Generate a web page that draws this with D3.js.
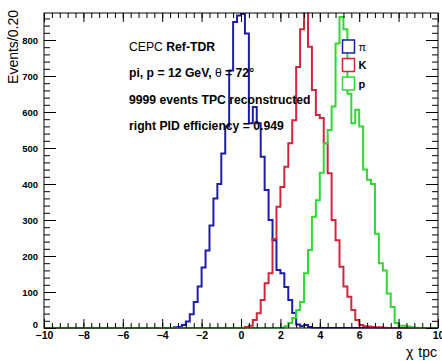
<!DOCTYPE html>
<html>
<head>
<meta charset="utf-8">
<script src="https://cdn.jsdelivr.net/npm/d3@7/dist/d3.min.js"></script>
<style>
  body { margin: 0; background: #fff; }
  svg { display: block; }
  text { font-family: "Liberation Sans", Arial, Helvetica, sans-serif; }
</style>
</head>
<body>
<div id="chart"></div>
<script>
// histogram binning: 100 bins of 0.2 between -10 and 10
const xRange = [-10, 10]
const binWidth = 0.2

// bin contents, each series starting at the lower edge given
const piStart = -3.4
const piCounts = [2, 3, 8, 18, 38, 72, 115, 168, 215, 285, 360, 400, 485, 560, 715, 850, 868, 872,
  818, 569, 614, 569, 476, 383, 300, 244, 161, 152, 114, 78, 42, 10, 5, 8, 3]
const kStart = 0.2
const kCounts = [3, 6, 22, 41, 78, 124, 152, 247, 337, 392, 448, 513, 577, 725, 830, 920, 781, 661,
  592, 583, 513, 430, 300, 244, 170, 115, 87, 50, 22, 8, 5, 4, 3, 2, 2, 1]
const pStart = 2.2
const pCounts = [5, 14, 28, 50, 72, 152, 217, 309, 355, 431, 513, 550, 615, 790, 864, 830, 651, 569,
  606, 560, 440, 412, 400, 262, 180, 160, 96, 58, 14, 6, 6, 4, 2, 1]

const yMax = 875
const xTicks = [-10, -8, -6, -4, -2, 0, 2, 4, 6, 8, 10]
const yTicks = [0, 100, 200, 300, 400, 500, 600, 700, 800]

const infoLines = [
  [{ t: 'CEPC ', b: false }, { t: 'Ref-TDR', b: true }],
  [{ t: 'pi, p = 12 GeV,  ', b: true }, { t: 'θ', b: false }, { t: ' = 72°', b: true }],
  [{ t: '9999 events TPC reconstructed', b: true }],
  [{ t: 'right PID efficiency = 0.949', b: true }]
]

const series = [
  { name: 'π', bold: false, color: '#1c1ca8', start: piStart, counts: piCounts },
  { name: 'K', bold: true, color: '#d0263a', start: kStart, counts: kCounts },
  { name: 'p', bold: true, color: '#2fd92f', start: pStart, counts: pCounts }
]

const width = 442, height = 361
const margin = { left: 44, right: 4, top: 13, bottom: 33 }
const W = width - margin.left - margin.right
const H = height - margin.top - margin.bottom

const svg = d3.select('#chart').append('svg')
  .attr('width', width).attr('height', height)

const x = d3.scaleLinear().domain(xRange).range([margin.left, margin.left + W])
const y = d3.scaleLinear().domain([0, yMax]).range([margin.top + H, margin.top])

svg.append('clipPath').attr('id', 'frame-clip')
  .append('rect')
  .attr('x', margin.left).attr('y', margin.top - 0.5)
  .attr('width', W).attr('height', H + 1)

// full bin arrays
const nBins = Math.round((xRange[1] - xRange[0]) / binWidth)
function fullBins(start, counts) {
  const first = Math.round((start - xRange[0]) / binWidth)
  const vals = new Array(nBins).fill(0)
  counts.forEach((c, i) => { vals[first + i] = c })
  return vals
}

const line = d3.line()
  .x(d => x(d[0]))
  .y(d => y(d[1]))
  .curve(d3.curveStepAfter)

const plot = svg.append('g').attr('clip-path', 'url(#frame-clip)')
series.forEach(s => {
  const vals = fullBins(s.start, s.counts)
  const pts = vals.map((v, i) => [xRange[0] + i * binWidth, v])
  pts.push([xRange[1], vals[nBins - 1]])
  plot.append('path')
    .attr('d', line(pts))
    .attr('fill', 'none')
    .attr('stroke', s.color)
    .attr('stroke-width', 2)
})

// axes, ROOT style ticks pointing inside
const minorX = d3.range(-10, 10.001, 0.4)
const minorY = d3.range(0, yMax, 20)

function styleAxis(g) {
  g.select('.domain').remove()
  g.selectAll('line').attr('stroke', '#000').attr('stroke-width', 1)
  g.selectAll('text').attr('fill', '#000').attr('font-weight', 'bold')
}

svg.append('g')
  .attr('transform', `translate(0,${margin.top + H})`)
  .call(d3.axisBottom(x).tickValues(minorX).tickSize(-5).tickFormat(''))
  .call(styleAxis)
svg.append('g')
  .attr('transform', `translate(0,${margin.top + H})`)
  .call(d3.axisBottom(x).tickValues(xTicks).tickSize(-9).tickPadding(4).tickFormat(d3.format('d')))
  .call(styleAxis)
  .call(g => g.selectAll('text').attr('font-size', 10.5))
svg.append('g')
  .attr('transform', `translate(0,${margin.top})`)
  .call(d3.axisTop(x).tickValues(minorX).tickSize(-5).tickFormat(''))
  .call(styleAxis)
svg.append('g')
  .attr('transform', `translate(0,${margin.top})`)
  .call(d3.axisTop(x).tickValues(xTicks).tickSize(-9).tickFormat(''))
  .call(styleAxis)

svg.append('g')
  .attr('transform', `translate(${margin.left},0)`)
  .call(d3.axisLeft(y).tickValues(minorY).tickSize(-6).tickFormat(''))
  .call(styleAxis)
svg.append('g')
  .attr('transform', `translate(${margin.left},0)`)
  .call(d3.axisLeft(y).tickValues(yTicks).tickSize(-12).tickPadding(6).tickFormat(d3.format('d')))
  .call(styleAxis)
  .call(g => g.selectAll('text').attr('font-size', 9.5))
  .call(g => g.selectAll('.tick').filter(d => d === 0).select('text').attr('dy', '-0.1em'))
svg.append('g')
  .attr('transform', `translate(${margin.left + W},0)`)
  .call(d3.axisRight(y).tickValues(minorY).tickSize(-6).tickFormat(''))
  .call(styleAxis)
svg.append('g')
  .attr('transform', `translate(${margin.left + W},0)`)
  .call(d3.axisRight(y).tickValues(yTicks).tickSize(-12).tickFormat(''))
  .call(styleAxis)

// frame
svg.append('rect')
  .attr('x', margin.left).attr('y', margin.top)
  .attr('width', W).attr('height', H)
  .attr('fill', 'none').attr('stroke', '#000').attr('stroke-width', 1)

// axis titles
svg.append('text')
  .attr('transform', `translate(18,${margin.top - 3}) rotate(-90)`)
  .attr('text-anchor', 'end')
  .attr('font-size', 14)
  .text('Events/0.20')

const xt = svg.append('text')
  .attr('x', margin.left + W - 1).attr('y', 357)
  .attr('text-anchor', 'end')
  .attr('font-size', 14)
xt.append('tspan').text('χ')
xt.append('tspan').attr('dx', 5).text('tpc')

// info text
infoLines.forEach((parts, i) => {
  const t = svg.append('text')
    .attr('x', 129).attr('y', 51 + i * 26.4)
    .attr('font-size', 12.2)
  parts.forEach(p => t.append('tspan')
    .attr('font-weight', p.b ? 'bold' : 'normal')
    .text(p.t))
})

// legend
const leg = svg.append('g')
series.forEach((s, i) => {
  const cy = 46.5 + i * 18.5
  leg.append('rect')
    .attr('x', 342.5).attr('y', cy - 6.5)
    .attr('width', 12).attr('height', 13)
    .attr('fill', '#fff').attr('stroke', s.color).attr('stroke-width', 1.5)
  leg.append('text')
    .attr('x', 358.5).attr('y', cy + 4)
    .attr('font-size', 11)
    .attr('font-weight', s.bold ? 'bold' : 'normal')
    .text(s.name)
})
</script>
</body>
</html>
